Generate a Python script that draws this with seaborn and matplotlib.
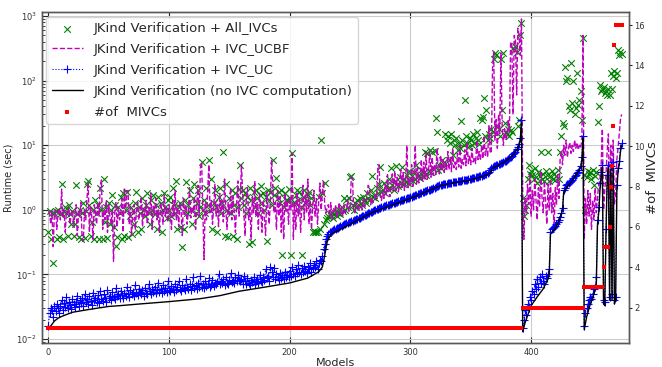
import matplotlib
matplotlib.use("Agg")
import matplotlib.pyplot as plt
import seaborn as sns
import pandas as pd
import numpy as np

# runtime (sec) per model (model index = list position)
all_ivcs = [
    0.45, 0.95, 0.35, 0.9, 0.15, 0.9, 0.95, 0.35, 1.0, 0.38, 0.85, 2.5, 0.36, 0.95, 1.1, 0.9, 0.4, 1.2, 0.85, 0.6,
    0.95, 0.4, 0.6, 2.4, 0.85, 0.38, 1.0, 0.35, 0.9, 1.3, 0.37, 0.95, 2.5, 2.8, 1.2, 0.4, 0.65, 1.0, 0.36, 1.4,
    0.9, 1.2, 0.35, 2.2, 1.0, 0.36, 3.0, 0.65, 1.1, 0.37, 1.3, 0.6, 1.0, 1.7, 0.55, 1.2, 0.28, 0.38, 1.1, 0.9,
    1.6, 0.35, 1.8, 0.4, 1.0, 1.9, 0.38, 1.2, 0.8, 0.42, 1.0, 0.6, 1.3, 1.9, 0.45, 1.1, 0.9, 0.5, 1.5, 1.0,
    0.8, 1.2, 1.8, 0.9, 0.6, 1.4, 1.0, 1.7, 0.85, 1.2, 0.5, 1.6, 0.9, 1.3, 0.45, 1.0, 1.8, 1.1, 0.75, 1.4,
    1.0, 1.6, 0.8, 2.2, 1.2, 0.9, 2.8, 0.5, 1.1, 1.3, 0.55, 0.27, 0.5, 1.4, 2.7, 0.9, 1.2, 2.0, 1.0, 0.6,
    1.5, 2.5, 0.9, 1.3, 2.0, 0.8, 1.1, 5.5, 1.0, 1.4, 0.9, 2.2, 1.2, 6.0, 1.0, 3.0, 0.5, 1.3, 2.0, 1.1,
    0.45, 1.6, 2.2, 0.9, 1.3, 8.0, 0.4, 2.5, 1.0, 0.38, 1.5, 0.9, 2.0, 0.4, 1.2, 1.8, 0.36, 1.1, 2.1, 5.0,
    1.5, 2.0, 1.2, 1.8, 0.9, 1.6, 0.3, 2.2, 1.4, 0.32, 1.9, 1.1, 2.0, 1.5, 0.9, 1.7, 2.3, 1.3, 1.8, 1.0,
    1.6, 0.33, 2.0, 1.4, 1.9, 1.2, 6.0, 1.7, 2.2, 3.1, 1.5, 1.9, 1.3, 2.0, 0.2, 1.1, 1.8, 1.4, 1.4, 2.1,
    1.5, 0.2, 7.5, 1.3, 1.3, 1.7, 2.0, 1.4, 1.9, 1.1, 0.2, 1.6, 2.0, 1.3, 1.4, 1.7, 1.9, 1.2, 1.5, 0.45,
    0.47, 0.45, 0.46, 0.45, 1.6, 0.5, 12.0, 1.8, 0.6, 2.6, 0.7, 0.75, 0.8, 0.85, 0.8, 0.9, 0.75, 0.85, 0.95, 0.8,
    0.9, 1.0, 0.85, 1.1, 0.95, 1.5, 1.0, 1.4, 1.1, 1.5, 3.2, 3.3, 1.2, 1.0, 1.3, 1.1, 1.4, 1.2, 1.5, 1.3,
    1.2, 1.6, 1.4, 1.3, 1.8, 1.5, 1.4, 2.0, 3.3, 1.6, 1.7, 1.5, 2.2, 1.8, 2.5, 4.6, 1.9, 2.0, 2.6, 1.8,
    2.3, 2.1, 3.0, 2.2, 4.5, 2.4, 2.0, 2.8, 4.8, 2.5, 2.3, 3.2, 2.6, 4.6, 2.5, 3.0, 2.7, 3.5, 2.6, 4.0,
    2.9, 3.3, 2.8, 3.8, 3.0, 5.0, 3.2, 3.5, 3.1, 4.2, 3.3, 3.8, 8.0, 3.5, 7.5, 4.0, 8.5, 3.8, 7.8, 4.5,
    8.2, 26.0, 16.0, 4.2, 5.0, 4.5, 6.0, 4.8, 5.5, 15.0, 12.0, 14.0, 6.0, 11.0, 15.0, 7.0, 12.0, 10.0, 13.0, 8.5,
    11.0, 9.0, 24.0, 12.0, 10.0, 50.0, 14.0, 11.0, 9.5, 13.0, 12.0, 10.0, 15.0, 11.0, 13.0, 16.0, 12.0, 10.5, 26.0, 25.0,
    27.0, 54.0, 14.0, 35.0, 12.0, 15.0, 13.0, 18.0, 16.0, 220.0, 270.0, 250.0, 20.0, 18.0, 14.0, 220.0, 35.0, 270.0, 22.0, 16.0,
    15.0, 18.0, 14.0, 17.0, 16.0, 320.0, 300.0, 340.0, 280.0, 20.0, 25.0, 500.0, 780.0,
    1.5, 0.8, 1.0, 1.2, 3.0, 5.0, 3.6, 4.0, 3.5, 3.0, 4.5, 3.2, 2.6, 3.8, 3.3, 7.8, 3.0, 3.6, 2.8, 4.0,
    3.5, 7.8, 2.8, 3.4, 4.0, 3.0, 3.6, 2.9, 3.3, 4.2, 3.0, 8.0, 14.0, 22.0, 20.0, 160.0, 100.0, 110.0, 40.0, 35.0,
    190.0, 45.0, 100.0, 30.0, 38.0, 130.0, 42.0, 50.0, 70.0, 25.0, 450.0,
    3.5, 1.0, 3.2, 4.0, 3.6, 3.8, 3.0, 4.2, 2.4, 3.4, 3.9, 23.0, 40.0, 85.0, 70.0, 75.0,
    80.0, 65.0, 70.0, 60.0, 75.0, 60.0, 130.0, 75.0, 120.0, 140.0, 110.0, 130.0, 300.0, 250.0, 280.0, 260.0,
]

ivc_ucbf = [
    0.95, 0.9, 0.6, 0.95, 0.27, 0.85, 1.0, 0.5, 0.9, 1.05, 0.7, 2.1, 0.8, 1.0, 0.45, 0.95, 0.85, 1.1, 0.6, 0.9,
    1.0, 0.55, 0.85, 1.2, 0.4, 0.95, 0.8, 1.3, 0.35, 0.33, 1.0, 0.7, 1.5, 2.6, 0.45, 1.1, 0.8, 0.35, 1.2, 0.9,
    0.6, 1.3, 0.8, 2.4, 2.9, 0.5, 1.0, 0.7, 1.4, 0.45, 1.2, 0.8, 0.6, 1.0, 0.16, 0.9, 1.3, 0.55, 1.1, 0.7,
    0.9, 1.5, 0.45, 2.2, 0.9, 1.8, 2.0, 0.6, 1.1, 0.4, 0.85, 1.2, 0.5, 0.95, 1.3, 0.7, 1.0, 1.6, 0.55, 1.05,
    0.8, 1.4, 0.6, 1.1, 0.9, 1.8, 0.5, 1.2, 0.85, 1.5, 0.7, 1.0, 0.45, 1.3, 0.95, 0.6, 1.7, 0.8, 1.1, 0.65,
    1.2, 0.9, 0.5, 1.4, 0.8, 2.0, 0.7, 1.1, 0.55, 1.3, 0.95, 0.4, 1.5, 0.85, 1.2, 0.6, 1.0, 2.2, 0.75, 1.1,
    0.9, 1.6, 0.5, 1.2, 2.4, 0.8, 4.5, 5.5, 1.0, 0.17, 1.3, 0.7, 2.0, 5.0, 0.9, 1.4, 0.6, 1.1, 2.5, 0.8,
    1.2, 0.55, 1.8, 0.9, 1.4, 0.65, 3.0, 1.1, 0.5, 1.3, 0.85, 2.2, 0.7, 1.6, 0.95, 0.45, 1.2, 2.8, 0.8, 1.5,
    5.0, 1.8, 0.9, 0.4, 1.5, 2.2, 0.7, 1.1, 0.35, 1.6, 0.9, 2.8, 0.8, 1.3, 0.5, 1.8, 1.0, 0.45, 1.4, 0.75,
    0.4, 1.9, 1.1, 0.6, 1.5, 6.0, 2.2, 0.9, 1.3, 0.5, 2.0, 0.8, 1.6, 0.45, 1.2, 0.35, 1.8, 0.95, 1.4, 0.6,
    1.6, 1.0, 7.5, 0.35, 1.3, 0.5, 1.9, 0.8, 1.5, 0.45, 1.2, 2.4, 0.7, 1.7, 0.9, 3.0, 0.6, 1.4, 0.5, 1.1,
    2.0, 0.8, 1.5, 0.6, 1.3, 2.6, 1.0, 1.8, 2.8, 1.2, 0.9, 1.1, 1.2, 0.8, 1.3, 0.7, 1.0, 0.9, 1.2, 0.75,
    1.0, 1.3, 0.85, 1.1, 0.8, 1.2, 0.9, 1.0, 1.4, 0.95, 1.1, 3.2, 3.0, 1.0, 0.9, 1.3, 1.1, 0.95, 1.4, 1.2,
    1.0, 1.5, 1.1, 1.3, 1.6, 2.4, 2.2, 1.2, 1.5, 1.3, 1.4, 1.8, 1.5, 4.5, 5.0, 1.6, 1.4, 1.9, 1.5, 2.5,
    1.7, 3.5, 1.8, 1.6, 2.8, 3.6, 1.9, 4.0, 2.0, 3.2, 1.9, 2.5, 4.2, 2.1, 3.8, 2.0, 2.6, 10.0, 2.2, 3.0,
    2.4, 5.0, 2.3, 3.6, 10.0, 2.5, 4.5, 2.6, 3.2, 6.0, 2.8, 5.5, 3.0, 7.5, 2.9, 4.0, 8.0, 3.2, 6.5, 3.4,
    5.0, 3.5, 9.0, 4.2, 3.6, 7.0, 4.0, 6.0, 3.8, 5.5, 4.0, 8.0, 4.2, 6.5, 3.9, 9.0, 4.5, 5.5, 4.2, 7.5,
    4.6, 10.0, 4.4, 6.0, 5.0, 8.5, 4.8, 11.0, 5.2, 7.0, 5.0, 9.0, 5.5, 6.5, 5.2, 12.0, 6.0, 8.0, 5.8, 10.0,
    6.2, 14.0, 7.0, 9.0, 6.5, 20.0, 8.0, 7.5, 150.0, 280.0, 12.0, 25.0, 9.0, 30.0, 15.0, 270.0, 20.0, 10.0, 18.0, 12.0,
    14.0, 25.0, 16.0, 400.0, 350.0, 30.0, 500.0, 420.0, 60.0, 650.0, 500.0, 250.0, 900.0,
    2.0, 0.35, 1.5, 0.9, 2.5, 1.2, 3.5, 0.8, 2.0, 1.0, 3.0, 1.4, 0.7, 2.2, 1.1, 4.0, 1.6, 0.9, 2.8, 1.3,
    0.6, 2.5, 1.0, 3.0, 0.9, 1.8, 0.5, 2.2, 1.2, 3.5, 1.5, 6.0, 8.0, 5.0, 10.0, 7.0, 12.0, 6.5, 9.0, 11.0,
    7.5, 10.0, 8.0, 12.0, 9.0, 11.0, 8.5, 10.0, 9.0, 12.0, 500.0,
    0.35, 1.5, 0.6, 2.0, 0.8, 1.8, 0.5, 1.4, 0.7, 2.2, 0.9, 1.6, 2.5, 3.0, 5.0, 18.0,
    1.0, 2.0, 3.5, 8.0, 15.0, 1.5, 10.0, 2.0, 12.0, 1.2, 1.8, 6.0, 9.0, 15.0, 25.0, 30.0,
]

ivc_uc = [
    0.016, 0.025, 0.03, 0.028, 0.022, 0.032, 0.027, 0.035, 0.03, 0.025, 0.033, 0.04, 0.028, 0.036, 0.031, 0.045, 0.03, 0.038, 0.034, 0.029,
    0.042, 0.035, 0.031, 0.038, 0.047, 0.033, 0.04, 0.036, 0.044, 0.032, 0.05, 0.037, 0.041, 0.035, 0.046, 0.039, 0.034, 0.052, 0.04, 0.043,
    0.038, 0.048, 0.036, 0.055, 0.042, 0.039, 0.05, 0.044, 0.037, 0.058, 0.043, 0.047, 0.04, 0.053, 0.045, 0.041, 0.062, 0.046, 0.05, 0.043,
    0.056, 0.048, 0.044, 0.052, 0.047, 0.065, 0.05, 0.045, 0.058, 0.049, 0.054, 0.046, 0.068, 0.051, 0.048, 0.06, 0.053, 0.05, 0.057, 0.047,
    0.062, 0.052, 0.049, 0.07, 0.055, 0.05, 0.059, 0.053, 0.065, 0.051, 0.057, 0.074, 0.054, 0.06, 0.052, 0.068, 0.056, 0.061, 0.053, 0.078,
    0.058, 0.055, 0.066, 0.06, 0.054, 0.072, 0.057, 0.063, 0.08, 0.059, 0.056, 0.069, 0.062, 0.058, 0.085, 0.064, 0.06, 0.071, 0.057, 0.066,
    0.09, 0.062, 0.068, 0.059, 0.075, 0.065, 0.095, 0.063, 0.07, 0.061, 0.078, 0.066, 0.072, 0.088, 0.064, 0.069, 0.082, 0.067, 0.074, 0.071,
    0.076, 0.1, 0.07, 0.079, 0.073, 0.085, 0.068, 0.092, 0.075, 0.071, 0.083, 0.105, 0.077, 0.08, 0.074, 0.09, 0.078, 0.097, 0.082, 0.079,
    0.085, 0.072, 0.095, 0.078, 0.07, 0.088, 0.074, 0.068, 0.082, 0.076, 0.092, 0.071, 0.079, 0.086, 0.075, 0.098, 0.08, 0.077, 0.09, 0.083,
    0.12, 0.087, 0.095, 0.08, 0.13, 0.11, 0.09, 0.125, 0.085, 0.1, 0.093, 0.082, 0.105, 0.088, 0.097, 0.086, 0.11, 0.092, 0.099, 0.09,
    0.115, 0.096, 0.13, 0.1, 0.094, 0.12, 0.105, 0.14, 0.11, 0.1, 0.125, 0.108, 0.135, 0.115, 0.105, 0.13, 0.12, 0.15, 0.11, 0.125,
    0.14, 0.13, 0.16, 0.12, 0.15, 0.17, 0.16, 0.19, 0.25, 0.3, 0.36, 0.4, 0.43, 0.45, 0.46, 0.47, 0.49, 0.5, 0.51, 0.52,
    0.53, 0.55, 0.56, 0.57, 0.58, 0.6, 0.61, 0.62, 0.63, 0.64, 0.65, 0.67, 0.68, 0.69, 0.7, 0.71, 0.73, 0.74, 0.76, 0.77,
    0.79, 0.8, 0.82, 0.84, 0.86, 0.88, 0.9, 0.92, 0.94, 0.96, 0.98, 1.0, 1.02, 1.04, 1.06, 1.08, 1.1, 1.12, 1.14, 1.16,
    1.17, 1.19, 1.2, 1.22, 1.24, 1.26, 1.28, 1.3, 1.32, 1.34, 1.36, 1.38, 1.4, 1.42, 1.44, 1.46, 1.48, 1.5, 1.52, 1.55,
    1.58, 1.6, 1.63, 1.66, 1.69, 1.72, 1.75, 1.78, 1.82, 1.85, 1.88, 1.91, 1.94, 1.97, 2.0, 2.03, 2.06, 2.1, 2.13, 2.16,
    2.2, 2.25, 2.3, 2.35, 2.4, 2.42, 2.45, 2.48, 2.5, 2.52, 2.55, 2.58, 2.6, 2.62, 2.65, 2.68, 2.7, 2.72, 2.74, 2.76,
    2.78, 2.8, 2.82, 2.85, 2.88, 2.9, 2.92, 2.95, 2.98, 3.0, 3.03, 3.06, 3.1, 3.14, 3.18, 3.22, 3.26, 3.3, 3.34, 3.38,
    3.45, 3.5, 3.55, 3.6, 3.7, 3.8, 4.2, 4.5, 4.6, 4.7, 4.8, 4.9, 5.0, 5.1, 5.2, 5.3, 5.4, 5.5, 5.7, 5.8,
    6.0, 6.2, 6.4, 6.6, 6.8, 7.2, 7.6, 8.0, 8.6, 9.4, 10.5, 13.0, 25.0,
    0.015, 0.02, 0.028, 0.024, 0.035, 0.03, 0.045, 0.04, 0.055, 0.05, 0.07, 0.06, 0.085, 0.065, 0.09, 0.075, 0.1, 0.08, 0.07, 0.095,
    0.088, 0.1, 0.12, 0.45, 0.5, 0.52, 0.55, 0.57, 0.6, 0.65, 0.7, 0.78, 0.88, 1.05, 2.0, 2.2, 2.4, 2.5, 2.6, 2.7,
    2.8, 2.9, 3.1, 3.3, 3.5, 3.7, 3.9, 4.2, 4.8, 6.5, 14.0,
    0.016, 0.025, 0.03, 0.035, 0.04, 0.045, 0.042, 0.05, 0.06, 0.065, 0.09, 0.7, 1.1, 2.6, 3.8, 5.0,
    0.04, 0.038, 0.5, 3.5, 5.0, 0.045, 4.8, 0.05, 5.5, 0.04, 0.045, 2.4, 4.5, 5.8, 9.0, 11.0,
]

# verification only (no IVC computation): vertices of the black curve
black_models = [0, 2, 5, 8, 10, 15, 20, 30, 40, 50, 60, 76, 100, 125, 142, 158, 180, 200, 215, 224,
                227, 229, 231, 234, 241, 250, 268, 280, 296, 310, 323, 335, 347, 360, 365, 366, 367, 368, 378, 385,
                389, 391, 392,
                393, 395, 400, 405, 410, 414, 415, 416, 421, 425, 426, 427, 435, 441, 442, 443,
                444, 446, 449, 452, 454, 455, 456, 457, 458, 459,
                460, 461, 462, 463, 464, 465, 466, 467, 468, 469, 470, 471, 472, 473, 474, 475]
black_runtime = [0.015, 0.016, 0.019, 0.021, 0.022, 0.024, 0.026, 0.028, 0.030, 0.032, 0.033, 0.035, 0.038, 0.042, 0.047, 0.055, 0.064, 0.074, 0.088, 0.11,
                 0.13, 0.2, 0.32, 0.42, 0.49, 0.6, 0.9, 1.1, 1.4, 1.8, 2.3, 2.6, 2.8, 3.3, 3.6, 3.7, 4.0, 4.4, 5.5, 7.0,
                 9.0, 12.0, 22.0,
                 0.013, 0.018, 0.033, 0.045, 0.06, 0.085, 0.1, 0.42, 0.55, 0.85, 1.0, 1.9, 3.0, 4.5, 6.0, 13.0,
                 0.014, 0.022, 0.035, 0.05, 0.07, 0.6, 0.9, 2.0, 3.2, 4.5,
                 0.035, 0.033, 0.4, 3.0, 4.5, 0.04, 4.2, 0.04, 4.8, 0.035, 0.04, 2.0, 4.0, 5.0, 8.0, 10.0]

# number of MIVCs and how many consecutive models have that count
mivc_values = [1, 2, 3, 4, 5, 6, 8, 9, 11, 15, 16]
mivc_group_size = [393, 51, 16, 1, 4, 1, 1, 1, 1, 1, 6]

labels = ["JKind Verification + All_IVCs",
          "JKind Verification + IVC_UCBF",
          "JKind Verification + IVC_UC",
          "JKind Verification (no IVC computation)",
          "#of  MIVCs"]

models = np.arange(len(ivc_uc))
df = pd.DataFrame({
    "model": models,
    "all": all_ivcs,
    "ucbf": ivc_ucbf,
    "uc": ivc_uc,
    "mivc": np.repeat(mivc_values, mivc_group_size),
})
black = pd.DataFrame({"model": black_models, "runtime": black_runtime})

sns.set_style("whitegrid")
plt.rcParams["font.family"] = ["DejaVu Sans"]

fig = plt.figure(figsize=(6.62, 3.67), dpi=100)
ax = fig.add_axes([0.063, 0.0654, 0.887, 0.9016])

sns.scatterplot(data=df, x="model", y="all", marker="x", color="g", s=22,
                linewidth=0.8, label=labels[0], ax=ax)
sns.lineplot(data=df, x="model", y="ucbf", color="m", linestyle="--",
             linewidth=1, label=labels[1], ax=ax)
sns.lineplot(data=df, x="model", y="uc", color="b", linestyle=":", linewidth=0.8,
             marker="+", markersize=5.5, markeredgewidth=0.8, markeredgecolor="b",
             label=labels[2], ax=ax)
sns.lineplot(data=black, x="model", y="runtime", color="k", linewidth=1,
             label=labels[3], ax=ax)

ax.set_yscale("log")
ax.set_ylim(0.0087, 1150)
ax.set_xlim(-5.5, 481)
ax.set_xticks([0, 100, 200, 300, 400])
ax.set_xlabel("Models", fontsize=8, labelpad=1)
ax.set_ylabel("Runtime (sec)", fontsize=7, labelpad=2)
ax.grid(True, which="major", color="0.8", linewidth=0.8)
ax.grid(False, which="minor")
ax.tick_params(axis="both", which="both", direction="in", labelsize=6,
               labelcolor="0.2", top=True, bottom=True, left=True, right=False)
ax.tick_params(which="major", length=4)
ax.tick_params(which="minor", length=2)

ax2 = ax.twinx()
sns.scatterplot(data=df, x="model", y="mivc", marker="s", color="r", s=10,
                linewidth=0, label=labels[4], ax=ax2)
ax2.set_ylim(0.25, 16.64)
ax2.set_yticks(range(2, 17, 2))
ax2.grid(False)
ax2.set_xlabel("")
ax2.set_ylabel("#of  MIVCs", fontsize=9.5, labelpad=1)
ax2.tick_params(axis="y", direction="out", labelsize=6, labelcolor="0.2",
                length=2.5, pad=1.5, right=True)

for a in (ax, ax2):
    for sp in a.spines.values():
        sp.set_color("0.35")
        sp.set_linewidth(1)

h1, l1 = ax.get_legend_handles_labels()
h2, l2 = ax2.get_legend_handles_labels()
for a in (ax, ax2):
    if a.get_legend() is not None:
        a.get_legend().remove()
ax2.legend(h1 + h2, l1 + l2, loc="upper left", bbox_to_anchor=(0.0, 1.0),
           fontsize=9.5, frameon=True, framealpha=0.8, edgecolor="0.8",
           handlelength=2.4, handletextpad=0.8, labelspacing=0.6,
           borderaxespad=0.35)

fig.savefig("out.png", dpi=100)
